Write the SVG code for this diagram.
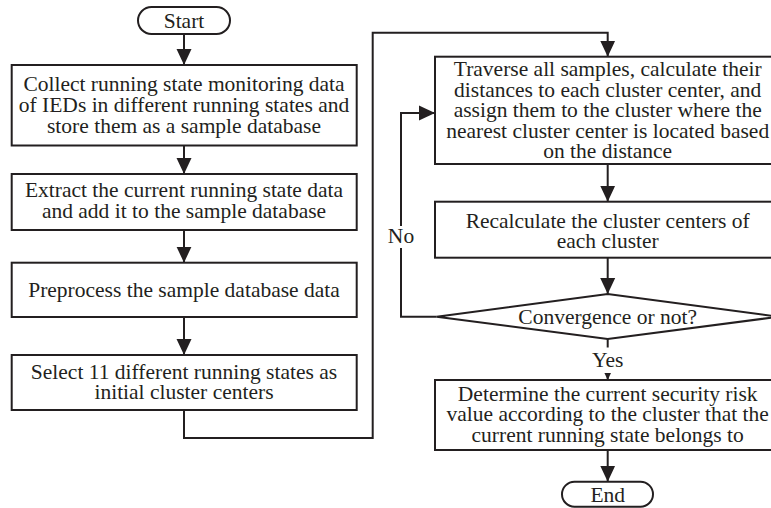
<svg xmlns="http://www.w3.org/2000/svg" width="771" height="508" viewBox="0 0 771 508">
  <style>
    .box { fill: #ffffff; stroke: #231f20; stroke-width: 2; }
    .wire { fill: none; stroke: #231f20; stroke-width: 2; }
    .txt { font-family: "Liberation Serif", "Times New Roman", serif; font-size: 21.5px; fill: #231f20; text-anchor: middle; }
    .mask { fill: #ffffff; stroke: none; }
  </style>
  <defs>
    <marker id="ah" markerWidth="16" markerHeight="16" refX="16" refY="8" orient="auto" markerUnits="userSpaceOnUse">
      <path d="M0,0.5 L16,8 L0,15.5 z" fill="#231f20"/>
    </marker>
  </defs>
  <rect width="771" height="508" fill="#ffffff"/>

  <!-- connectors -->
  <g id="connectors">
    <path class="wire" d="M184,34 V65" marker-end="url(#ah)"/>
    <path class="wire" d="M184,145.5 V174" marker-end="url(#ah)"/>
    <path class="wire" d="M184,230 V262.7" marker-end="url(#ah)"/>
    <path class="wire" d="M184,317 V355" marker-end="url(#ah)"/>
    <path class="wire" d="M184,410 V438 H372.7 V32.7 H607.7 V56.7" marker-end="url(#ah)"/>
    <path class="wire" d="M607.7,164 V201.7" marker-end="url(#ah)"/>
    <path class="wire" d="M607.7,257.7 V294" marker-end="url(#ah)"/>
    <path class="wire" d="M436.7,316.7 H401 V113 H435" marker-end="url(#ah)"/>
    <rect class="mask" x="387" y="226" width="28" height="22"/>
    <text class="txt" x="401" y="242.5">No</text>
    <path class="wire" d="M607.7,339 V380" marker-end="url(#ah)"/>
    <rect class="mask" x="586" y="347.5" width="44" height="25.5"/>
    <text class="txt" x="607.7" y="367">Yes</text>
    <path class="wire" d="M607.7,450 V481.7" marker-end="url(#ah)"/>
  </g>

  <g id="start">
    <rect class="box" x="138" y="7" width="92" height="27" rx="13.5" ry="13.5"/>
    <text class="txt" x="184" y="27.5">Start</text>
  </g>

  <g id="collect">
    <rect class="box" x="11.7" y="65" width="345" height="80.5"/>
    <text class="txt" x="184" y="91">Collect running state monitoring data</text>
    <text class="txt" x="184" y="112">of IEDs in different running states and</text>
    <text class="txt" x="184" y="133">store them as a sample database</text>
  </g>

  <g id="extract">
    <rect class="box" x="11.7" y="174" width="345" height="56"/>
    <text class="txt" x="184" y="197">Extract the current running state data</text>
    <text class="txt" x="184" y="218">and add it to the sample database</text>
  </g>

  <g id="preprocess">
    <rect class="box" x="11.7" y="262.7" width="345" height="54.3"/>
    <text class="txt" x="184" y="297">Preprocess the sample database data</text>
  </g>

  <g id="select">
    <rect class="box" x="11.7" y="355" width="345" height="55"/>
    <text class="txt" x="184" y="378.5">Select 11 different running states as</text>
    <text class="txt" x="184" y="398.5">initial cluster centers</text>
  </g>

  <g id="traverse">
    <rect class="box" x="435" y="56.7" width="345" height="107.3"/>
    <text class="txt" x="607.7" y="76">Traverse all samples, calculate their</text>
    <text class="txt" x="607.7" y="96.7">distances to each cluster center, and</text>
    <text class="txt" x="607.7" y="117.3">assign them to the cluster where the</text>
    <text class="txt" x="607.7" y="137.8">nearest cluster center is located based</text>
    <text class="txt" x="607.7" y="158.3">on the distance</text>
  </g>

  <g id="recalculate">
    <rect class="box" x="435" y="201.7" width="345" height="56"/>
    <text class="txt" x="607.7" y="228">Recalculate the cluster centers of</text>
    <text class="txt" x="607.7" y="248">each cluster</text>
  </g>

  <g id="convergence">
    <polygon class="box" points="436.7,316.7 607.7,294 778.7,316.7 607.7,339"/>
    <text class="txt" x="607.7" y="324">Convergence or not?</text>
  </g>

  <g id="determine">
    <rect class="box" x="435" y="380" width="345" height="70"/>
    <text class="txt" x="607.7" y="400.7">Determine the current security risk</text>
    <text class="txt" x="607.7" y="421.2">value according to the cluster that the</text>
    <text class="txt" x="607.7" y="441.7">current running state belongs to</text>
  </g>

  <g id="end">
    <rect class="box" x="562" y="481.7" width="91" height="25" rx="12.5" ry="12.5"/>
    <text class="txt" x="607.7" y="501.5">End</text>
  </g>
</svg>
